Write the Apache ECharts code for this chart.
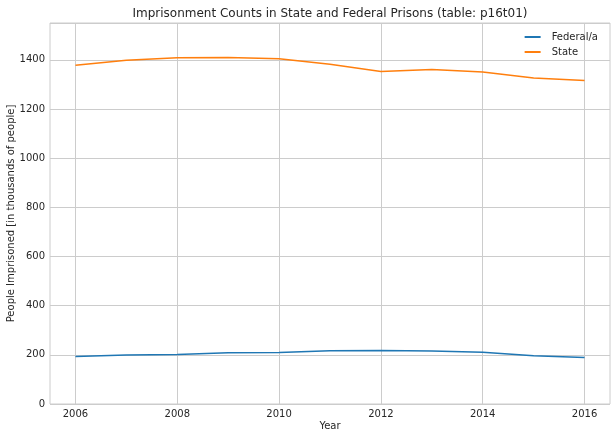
<!DOCTYPE html>
<html><head><meta charset="utf-8">
<script src="https://cdn.jsdelivr.net/npm/echarts@6/dist/echarts.min.js"></script>
<style>html,body{margin:0;padding:0;background:#fff}#c{width:615px;height:438px}</style>
</head><body><div id="c"></div>
<script>
const years = [2006,2007,2008,2009,2010,2011,2012,2013,2014,2015,2016];
const federal = [193.0,199.6,201.3,208.1,209.8,216.4,217.8,215.9,210.6,196.5,189.2];
const state = [1377.8,1398.6,1408.5,1409.2,1404.1,1382.4,1353.1,1361.1,1351.0,1326.3,1316.2];
const xTicks = [2006,2008,2010,2012,2014,2016];
const font = 'DejaVu Sans';
const txt = '#262626';
const chart = echarts.init(document.getElementById('c'), null, {renderer:'canvas'});
chart.setOption({
  animation:false,
  textStyle:{fontFamily:font,color:txt},
  title:{text:'Imprisonment Counts in State and Federal Prisons (table: p16t01)',left:325,top:3,textAlign:'center',
    textStyle:{fontFamily:font,fontSize:12,fontWeight:'normal',color:txt}},
  grid:{left:50,right:5,top:23,bottom:34,show:true,borderColor:'#cccccc',borderWidth:1,containLabel:false,outerBoundsMode:'none'},
  legend:{orient:'vertical',right:12,top:27,itemWidth:16,itemHeight:2,itemGap:5,
    textStyle:{fontFamily:font,fontSize:10,color:txt,padding:[0,0,0,6]},
    data:[{name:'Federal/a',icon:'rect'},{name:'State',icon:'rect'}]},
  xAxis:{type:'value',min:2005.5,max:2016.5,name:'Year',nameLocation:'middle',nameGap:17,nameMoveOverlap:false,
    nameTextStyle:{fontFamily:font,fontSize:10,color:txt},
    axisLine:{show:false},
    axisTick:{show:false,customValues:xTicks},
    axisLabel:{customValues:xTicks,fontFamily:font,fontSize:10,color:txt,margin:5,formatter:v=>String(v)},
    splitLine:{show:true,lineStyle:{color:'#cccccc',width:1}}},
  yAxis:{type:'value',min:0,max:1550,interval:200,name:'People Imprisoned [in thousands of people]',
    nameLocation:'middle',nameGap:34,nameMoveOverlap:false,nameTextStyle:{fontFamily:font,fontSize:10,color:txt},
    axisLine:{show:false},axisTick:{show:false},
    axisLabel:{fontFamily:font,fontSize:10,color:txt,margin:5,showMaxLabel:false,formatter:v=>String(v)},
    splitLine:{show:true,lineStyle:{color:'#cccccc',width:1}}},
  series:[
    {name:'Federal/a',type:'line',symbol:'none',data:years.map((y,i)=>[y,federal[i]]),
      lineStyle:{color:'#1f77b4',width:1.5},itemStyle:{color:'#1f77b4'}},
    {name:'State',type:'line',symbol:'none',data:years.map((y,i)=>[y,state[i]]),
      lineStyle:{color:'#ff7f0e',width:1.5},itemStyle:{color:'#ff7f0e'}}
  ]
});
</script></body></html>
